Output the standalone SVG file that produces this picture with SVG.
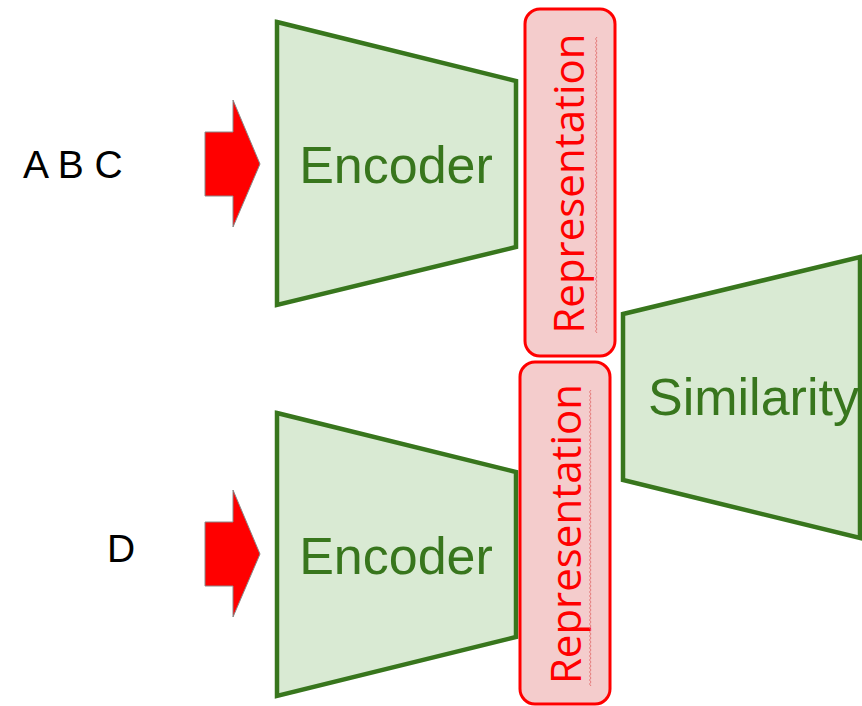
<svg xmlns="http://www.w3.org/2000/svg" width="862" height="706" viewBox="0 0 862 706">
<style>
.trap{fill:#d9ead3;stroke:#38761d;stroke-width:4.5;stroke-linejoin:miter}
.glab{fill:#38761d;font-family:"Liberation Sans",Arial,sans-serif;font-size:52px}
.rep{fill:#f4cccc;stroke:#ff0000;stroke-width:3}
.rlab{fill:#ff0000;font-family:"Open Sans",sans-serif;font-size:42px}
.squig{fill:none;stroke:#e06666;stroke-width:1;opacity:0.8}
.arrow{fill:#ff0000;stroke:#888888;stroke-width:1}
.inp{fill:#000000;font-family:"Liberation Sans",Arial,sans-serif;font-size:39px}
</style>
<rect width="862" height="706" fill="#ffffff"/>
<g id="connectors">
<polygon class="arrow" points="205,132 233,132 233,100 260,164 233,227 233,196 205,196"/>
<polygon class="arrow" points="205,522 233,522 233,490 260,554 233,617 233,586 205,586"/>
</g>
<g id="input-abc"><text class="inp" x="23" y="178">A B C</text></g>
<g id="input-d"><text class="inp" x="107" y="562">D</text></g>
<g id="encoder-top">
<polygon class="trap" points="277,22 516,81 516,247 277,305"/>
<text class="glab" x="396" y="183" text-anchor="middle">Encoder</text>
</g>
<g id="encoder-bottom">
<polygon class="trap" points="277,413 516,472 516,637 277,696"/>
<text class="glab" x="396" y="574" text-anchor="middle">Encoder</text>
</g>
<g id="representation-top">
<rect class="rep" x="525" y="9" width="90" height="347" rx="15"/>
<text class="rlab" transform="translate(584,183.5) rotate(-90)" text-anchor="middle">Representation</text>
<path class="squig" d="M597,37 l-1.5,2 l1.5,2 l-1.5,2 l1.5,2 l-1.5,2 l1.5,2 l-1.5,2 l1.5,2 l-1.5,2 l1.5,2 l-1.5,2 l1.5,2 l-1.5,2 l1.5,2 l-1.5,2 l1.5,2 l-1.5,2 l1.5,2 l-1.5,2 l1.5,2 l-1.5,2 l1.5,2 l-1.5,2 l1.5,2 l-1.5,2 l1.5,2 l-1.5,2 l1.5,2 l-1.5,2 l1.5,2 l-1.5,2 l1.5,2 l-1.5,2 l1.5,2 l-1.5,2 l1.5,2 l-1.5,2 l1.5,2 l-1.5,2 l1.5,2 l-1.5,2 l1.5,2 l-1.5,2 l1.5,2 l-1.5,2 l1.5,2 l-1.5,2 l1.5,2 l-1.5,2 l1.5,2 l-1.5,2 l1.5,2 l-1.5,2 l1.5,2 l-1.5,2 l1.5,2 l-1.5,2 l1.5,2 l-1.5,2 l1.5,2 l-1.5,2 l1.5,2 l-1.5,2 l1.5,2 l-1.5,2 l1.5,2 l-1.5,2 l1.5,2 l-1.5,2 l1.5,2 l-1.5,2 l1.5,2 l-1.5,2 l1.5,2 l-1.5,2 l1.5,2 l-1.5,2 l1.5,2 l-1.5,2 l1.5,2 l-1.5,2 l1.5,2 l-1.5,2 l1.5,2 l-1.5,2 l1.5,2 l-1.5,2 l1.5,2 l-1.5,2 l1.5,2 l-1.5,2 l1.5,2 l-1.5,2 l1.5,2 l-1.5,2 l1.5,2 l-1.5,2 l1.5,2 l-1.5,2 l1.5,2 l-1.5,2 l1.5,2 l-1.5,2 l1.5,2 l-1.5,2 l1.5,2 l-1.5,2 l1.5,2 l-1.5,2 l1.5,2 l-1.5,2 l1.5,2 l-1.5,2 l1.5,2 l-1.5,2 l1.5,2 l-1.5,2 l1.5,2 l-1.5,2 l1.5,2 l-1.5,2 l1.5,2 l-1.5,2 l1.5,2 l-1.5,2 l1.5,2 l-1.5,2 l1.5,2 l-1.5,2 l1.5,2 l-1.5,2 l1.5,2 l-1.5,2 l1.5,2 l-1.5,2 l1.5,2 l-1.5,2 l1.5,2 l-1.5,2 l1.5,2 l-1.5,2 l1.5,2 l-1.5,2 l1.5,2 l-1.5,2 l1.5,2 l-1.5,2 l1.5,2"/>
</g>
<g id="representation-bottom">
<rect class="rep" x="520" y="362" width="90" height="342" rx="15"/>
<text class="rlab" transform="translate(581,534) rotate(-90)" text-anchor="middle">Representation</text>
<path class="squig" d="M591,390 l-1.5,2 l1.5,2 l-1.5,2 l1.5,2 l-1.5,2 l1.5,2 l-1.5,2 l1.5,2 l-1.5,2 l1.5,2 l-1.5,2 l1.5,2 l-1.5,2 l1.5,2 l-1.5,2 l1.5,2 l-1.5,2 l1.5,2 l-1.5,2 l1.5,2 l-1.5,2 l1.5,2 l-1.5,2 l1.5,2 l-1.5,2 l1.5,2 l-1.5,2 l1.5,2 l-1.5,2 l1.5,2 l-1.5,2 l1.5,2 l-1.5,2 l1.5,2 l-1.5,2 l1.5,2 l-1.5,2 l1.5,2 l-1.5,2 l1.5,2 l-1.5,2 l1.5,2 l-1.5,2 l1.5,2 l-1.5,2 l1.5,2 l-1.5,2 l1.5,2 l-1.5,2 l1.5,2 l-1.5,2 l1.5,2 l-1.5,2 l1.5,2 l-1.5,2 l1.5,2 l-1.5,2 l1.5,2 l-1.5,2 l1.5,2 l-1.5,2 l1.5,2 l-1.5,2 l1.5,2 l-1.5,2 l1.5,2 l-1.5,2 l1.5,2 l-1.5,2 l1.5,2 l-1.5,2 l1.5,2 l-1.5,2 l1.5,2 l-1.5,2 l1.5,2 l-1.5,2 l1.5,2 l-1.5,2 l1.5,2 l-1.5,2 l1.5,2 l-1.5,2 l1.5,2 l-1.5,2 l1.5,2 l-1.5,2 l1.5,2 l-1.5,2 l1.5,2 l-1.5,2 l1.5,2 l-1.5,2 l1.5,2 l-1.5,2 l1.5,2 l-1.5,2 l1.5,2 l-1.5,2 l1.5,2 l-1.5,2 l1.5,2 l-1.5,2 l1.5,2 l-1.5,2 l1.5,2 l-1.5,2 l1.5,2 l-1.5,2 l1.5,2 l-1.5,2 l1.5,2 l-1.5,2 l1.5,2 l-1.5,2 l1.5,2 l-1.5,2 l1.5,2 l-1.5,2 l1.5,2 l-1.5,2 l1.5,2 l-1.5,2 l1.5,2 l-1.5,2 l1.5,2 l-1.5,2 l1.5,2 l-1.5,2 l1.5,2 l-1.5,2 l1.5,2 l-1.5,2 l1.5,2 l-1.5,2 l1.5,2 l-1.5,2 l1.5,2 l-1.5,2 l1.5,2 l-1.5,2 l1.5,2 l-1.5,2 l1.5,2 l-1.5,2 l1.5,2 l-1.5,2 l1.5,2"/>
</g>
<g id="similarity">
<polygon class="trap" points="623,314 860,257 860,538 623,480"/>
<text class="glab" x="648" y="415">Similarity</text>
</g>
</svg>
